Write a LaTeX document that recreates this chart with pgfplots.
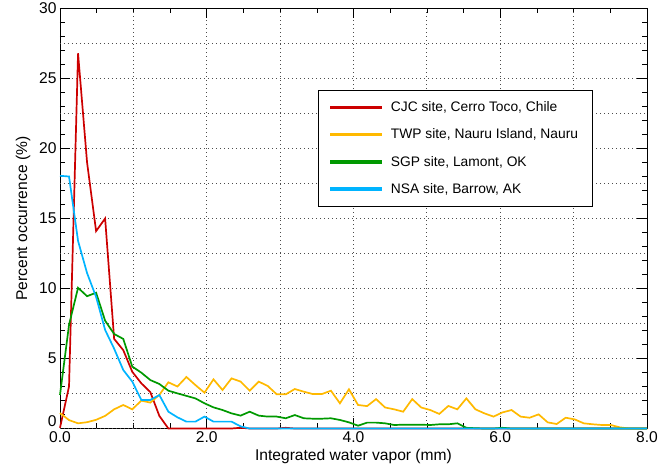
\documentclass[border=0pt]{standalone}
\usepackage{pgfplots}
\pgfplotsset{compat=1.18}
\usepackage{pgfplotstable}
\usepackage{fontspec}
\setmainfont{Liberation Sans}
\definecolor{cjc}{RGB}{204,0,0}
\definecolor{twp}{RGB}{255,185,0}
\definecolor{sgp}{RGB}{0,153,0}
\definecolor{nsa}{RGB}{0,180,255}

\pgfplotstableread{
x cjc twp sgp nsa
0 0.05 1.1 2.4 18.05
0.123 3.0 0.6 7.4 18.0
0.246 26.8 0.37 10.05 13.4
0.369 19.0 0.45 9.45 11.1
0.492 14.1 0.62 9.7 9.4
0.615 15.0 0.9 7.7 7.04
0.738 6.4 1.37 6.75 5.7
0.862 5.6 1.68 6.4 4.18
0.985 4.05 1.37 4.42 3.35
1.108 3.23 1.99 3.99 2.04
1.231 2.6 1.85 3.46 2.04
1.354 0.9 2.4 3.18 2.39
1.477 0 3.3 2.7 1.2
1.600 0 3.0 2.51 0.8
1.723 0 3.68 2.33 0.49
1.846 0 3.1 2.15 0.49
1.969 0 2.56 1.8 0.85
2.092 0 3.51 1.51 0.49
2.215 0 2.75 1.32 0.49
2.338 0 3.58 1.08 0.49
2.462 0.05 3.35 0.92 0.15
2.585 0 2.7 1.2 0
2.708 0 3.35 0.92 0
2.831 0 3.04 0.85 0
2.954 0 2.44 0.85 0
3.077 0.05 2.44 0.73 0
3.200 0 2.82 0.96 0
3.323 0 2.63 0.73 0
3.446 0 2.46 0.7 0
3.569 0 2.46 0.7 0
3.692 0 2.7 0.73 0
3.815 0 1.8 0.61 0
3.938 0 2.8 0.44 0
4.062 0 1.68 0.2 0
4.185 0 1.6 0.42 0
4.308 0 2.1 0.42 0
4.431 0 1.5 0.37 0
4.554 0 1.37 0.25 0
4.677 0 1.2 0.27 0
4.800 0 2.1 0.27 0
4.923 0 1.5 0.27 0
5.046 0 1.32 0.25 0
5.169 0 1.04 0.3 0
5.292 0 1.61 0.3 0
5.415 0 1.37 0.37 0
5.538 0 2.15 0.05 0
5.662 0 1.37 0.02 0
5.785 0 1.08 0 0
5.908 0 0.85 0 0
6.031 0 1.15 0.05 0
6.154 0 1.32 0 0
6.277 0 0.85 0 0
6.400 0 0.77 0 0
6.523 0 1.01 0 0
6.646 0 0.44 0 0
6.769 0 0.32 0 0
6.892 0 0.77 0 0
7.015 0 0.65 0 0
7.138 0 0.37 0 0
7.262 0 0.3 0 0
7.385 0 0.25 0 0
7.508 0 0.25 0 0
7.631 0 0.08 0 0
7.754 0 0 0 0
7.877 0 0 0 0
8.000 0 0 0 0
}\datatable

\begin{document}
\begin{tikzpicture}
\begin{axis}[
  at={(0,0)}, anchor=south west,
  scale only axis, width=587pt, height=420pt,
  xmin=0, xmax=8, ymin=0, ymax=30,
  clip=false,
  xtick={0,2,4,6,8}, xticklabels={0.0,2.0,4.0,6.0,8.0},
  minor xtick={0.5,1,...,7.5},
  extra x ticks={1,3,5,7}, extra x tick labels={},
  extra x tick style={major tick length=0pt},
  ytick={5,10,...,30},
  minor ytick={1,2,3,4,6,7,8,9,11,12,13,14,16,17,18,19,21,22,23,24,26,27,28,29},
  extra y ticks={0,2.5,7.5,12.5,17.5,22.5,27.5}, extra y tick labels={0,,,,,,},
  extra y tick style={major tick length=0pt, yticklabel style={yshift=7pt}},
  xmajorgrids, ymajorgrids,
  major grid style={black!70, line width=0.8pt, dash pattern=on 0.8pt off 3.2pt},
  major tick length=10pt, minor tick length=5pt,
  tick style={black, line width=0.6pt},
  axis line style={line width=0.8pt},
  /pgf/number format/assume math mode=true,
  tick label style={font=\fontsize{15.6}{18}\selectfont},
  label style={font=\fontsize{15.6}{18}\selectfont},
  xlabel={Integrated water vapor (mm)},
  ylabel={Percent occurrence (\%)},
  xlabel style={at={(axis description cs:0.5,-0.0667)}, anchor=center},
  ylabel style={at={(axis description cs:-0.063,0.5)}, anchor=center},
  legend style={at={(axis cs:3.51,24.15)}, anchor=north west, draw=black,
    fill=white, font=\fontsize{13.8}{16}\selectfont,
    inner xsep=12.5pt, inner ysep=9pt, row sep=11.8pt, column sep=7pt},
  legend cell align=left,
  legend image code/.code={\fill[#1] (0pt,-0.9pt) rectangle (50pt,0.9pt);},
]
\addplot[color=cjc, line width=1.7pt] table[x=x, y=cjc] {\datatable};
\addlegendentry{CJC site, Cerro Toco, Chile}
\addplot[color=twp, line width=1.7pt] table[x=x, y=twp] {\datatable};
\addlegendentry{TWP site, Nauru Island, Nauru}
\addplot[color=sgp, line width=1.7pt] table[x=x, y=sgp] {\datatable};
\addlegendentry{SGP site, Lamont, OK}
\addplot[color=nsa, line width=1.7pt] table[x=x, y=nsa] {\datatable};
\addlegendentry{NSA site, Barrow, AK}
\end{axis}
\pgfresetboundingbox
\path[use as bounding box] (-60pt,-39.5pt) rectangle (609pt,428.5pt);
\end{tikzpicture}
\end{document}
